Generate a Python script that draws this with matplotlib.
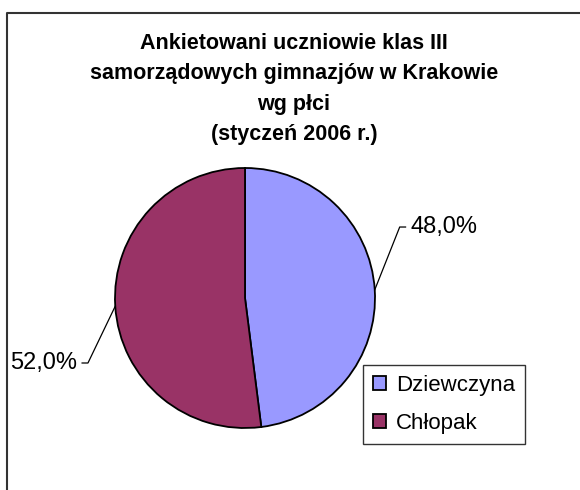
import matplotlib.pyplot as plt
import numpy as np
from matplotlib.lines import Line2D

plt.rcParams['font.family'] = ['Liberation Sans', 'DejaVu Sans']

# data
categories = ['Dziewczyna', 'Chłopak']
values = [48.0, 52.0]
colors = ['#9999FF', '#993366']
title = ('Ankietowani uczniowie klas III\n'
         'samorządowych gimnazjów w Krakowie\n'
         'wg płci\n'
         '(styczeń 2006 r.)')

W, H = 580, 490
fig = plt.figure(figsize=(W / 100, H / 100), dpi=100)

# outer chart frame: only top and left edges are visible in the crop
fx, fy = 6.5 / W, 1 - 13.5 / H
fig.lines.append(Line2D([fx, fx, 1.0], [0.0, fy, fy], transform=fig.transFigure,
                        color='#333333', linewidth=1.5, solid_capstyle='butt'))

fig.text(294 / W, 1 - 89 / H, title, ha='center', va='center',
         fontsize=15.5, fontweight='bold', linespacing=1.6)

# pie: center (245, 298) px, radius 130 px
cx, cy, r = 245, 298, 130
ax = fig.add_axes([(cx - r) / W, (H - cy - r) / H, 2 * r / W, 2 * r / H])
wedges, _ = ax.pie(values, colors=colors, startangle=90, counterclock=False,
                   wedgeprops=dict(edgecolor='black', linewidth=1.3))
ax.set_xlim(-1, 1)
ax.set_ylim(-1, 1)
ax.axis('off')

# percentage labels with leader lines
elbows = [(1.19, 0.546), (-1.208, -0.5)]
for w, v, (ex, ey) in zip(wedges, values, elbows):
    ang = np.deg2rad((w.theta1 + w.theta2) / 2)
    px, py = np.cos(ang), np.sin(ang)
    side = 1 if ex > 0 else -1
    hx = ex + side * 0.045
    ax.plot([px, ex, hx], [py, ey, ey], color='black', linewidth=0.9,
            clip_on=False)
    ax.text(hx + side * 0.035, ey, f'{v:.1f}%'.replace('.', ','),
            ha='left' if side > 0 else 'right', va='center', fontsize=17)

leg = fig.legend(wedges, categories, loc='upper left',
                 bbox_to_anchor=(363 / W, 1 - 365 / H), borderaxespad=0,
                 fontsize=16, frameon=True, fancybox=False, framealpha=1,
                 edgecolor='#333333', handlelength=0.6, handleheight=0.6,
                 handletextpad=0.45, labelspacing=0.75, borderpad=0.45)
leg.get_frame().set_linewidth(1.0)
for h in leg.legend_handles:
    h.set_edgecolor('black')

fig.savefig('out.png', dpi=100, facecolor='white')
